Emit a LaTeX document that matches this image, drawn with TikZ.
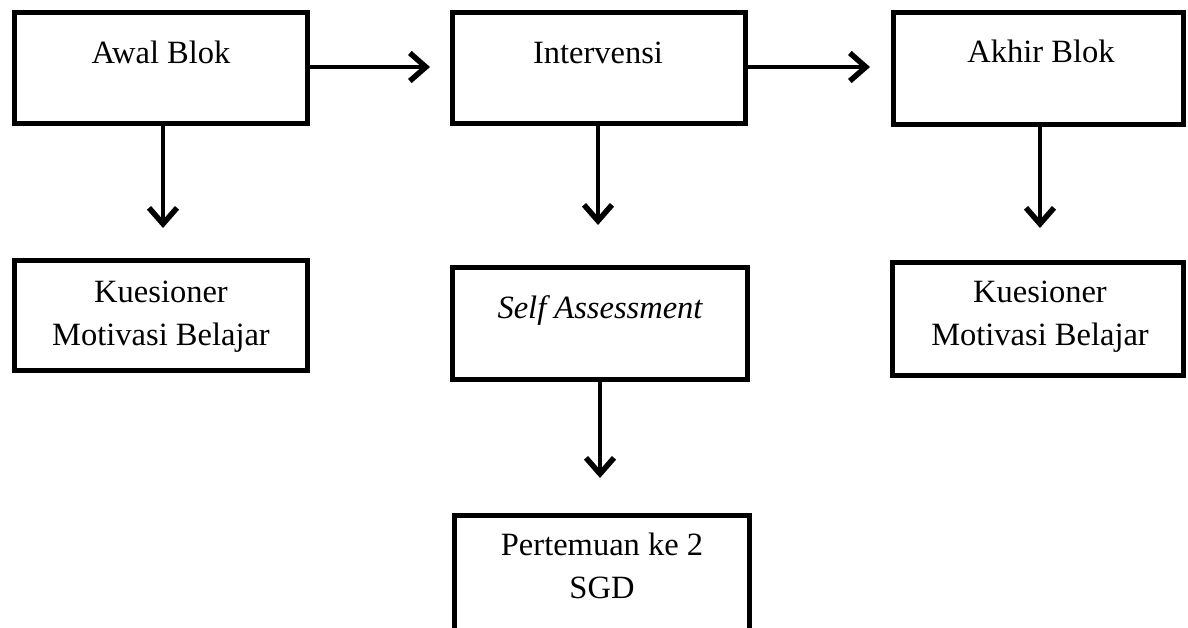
\documentclass[tikz,border=0pt]{standalone}
\usepackage{fontspec}
\setmainfont{Liberation Serif}
\usetikzlibrary{arrows.meta}
\begin{document}
\begin{tikzpicture}[x=1pt,y=-1pt,
  box/.style={draw=black,line width=5pt,rectangle,inner sep=0pt},
  lbl/.style={anchor=base,inner sep=0pt,font=\fontsize{32.5}{43}\selectfont,align=center},
  conn/.style={line width=4.5pt,-{Straight Barb[length=16pt,width=28pt,line width=5.5pt]}}]
\clip (0,0) rectangle (1188,627);
\useasboundingbox (0,0) rectangle (1188,627);
% boxes
\node[box,minimum width=293pt,minimum height=111pt] (awal) at (161,68) {};
\node[box,minimum width=293pt,minimum height=111pt] (interv) at (599,68) {};
\node[box,minimum width=290pt,minimum height=112pt] (akhir) at (1038.5,68.5) {};
\node[box,minimum width=293pt,minimum height=110pt] (kues1) at (161,315.5) {};
\node[box,minimum width=295pt,minimum height=112pt] (self) at (600,323.5) {};
\node[box,minimum width=291pt,minimum height=113pt] (kues3) at (1038,319) {};
\node[box,minimum width=295pt,minimum height=143pt] (pert) at (602,586.5) {};
% texts
\node[lbl] (tawal) at (161,63) {Awal Blok};
\node[lbl] (tinterv) at (598,63) {Intervensi};
\node[lbl] (takhir) at (1041,62) {Akhir Blok};
\node[lbl] (tkues1) at (161,345) {Kuesioner\\Motivasi Belajar};
\node[lbl] (tself) at (600,318) {\itshape Self Assessment};
\node[lbl] (tkues3) at (1040,345) {Kuesioner\\Motivasi Belajar};
\node[lbl] (tpert) at (602,598) {Pertemuan ke 2\\SGD};
% free ends
\coordinate (e1) at (430,67);
\coordinate (e2) at (870,67);
\coordinate (d1) at (163,228);
\coordinate (d2) at (598,225);
\coordinate (d3) at (1040,228);
\coordinate (d4) at (600,478);
% connectors
\draw[conn] (awal.east |- e1) -- (e1);
\draw[conn] (interv.east |- e2) -- (e2);
\draw[conn] (awal.south -| d1) -- (d1);
\draw[conn] (interv.south -| d2) -- (d2);
\draw[conn] (akhir.south -| d3) -- (d3);
\draw[conn] (self.south -| d4) -- (d4);
\end{tikzpicture}
\end{document}
